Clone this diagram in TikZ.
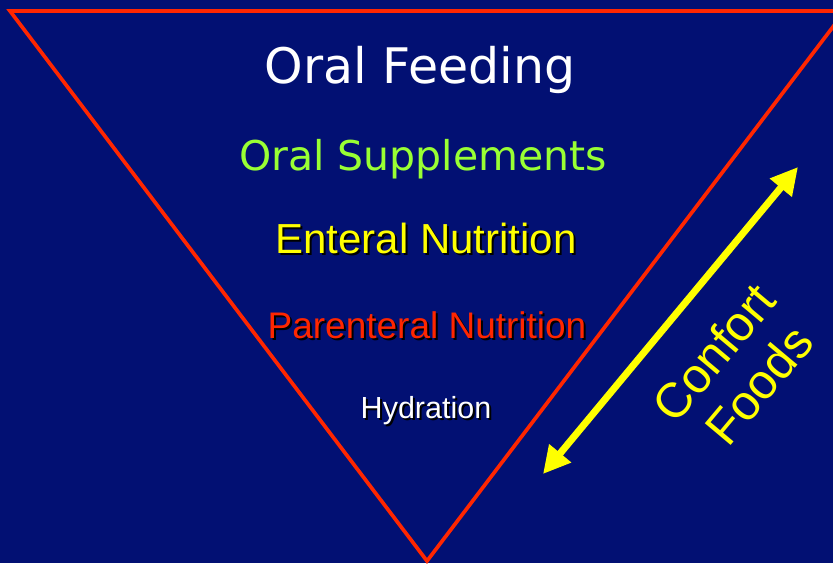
\documentclass[tikz,border=0pt]{standalone}
\usepackage{fontspec}
\setmainfont{Liberation Sans}
\newfontfamily\comicf{DejaVu Sans}
\newfontfamily\tahf{Liberation Sans}
\usetikzlibrary{arrows.meta}
\definecolor{navybg}{RGB}{2,16,115}
\definecolor{redline}{RGB}{255,38,0}
\definecolor{greentxt}{RGB}{153,255,51}
\definecolor{yellowtxt}{RGB}{255,255,0}
\newcommand{\shtxt}[2]{\makebox[0pt][l]{\hspace{2pt}\raisebox{-2pt}{\color{black}#2}}{\color{#1}#2}}
\tikzset{
  lbl/.style={anchor=base, inner sep=0pt, outer sep=0pt},
  tri/.style={draw=redline, line width=3.7pt, line join=miter},
  dblarrow/.style={draw=yellowtxt, line width=7pt,
    {Triangle[length=27pt,width=27pt]}-{Triangle[length=27pt,width=27pt]}}
}
\begin{document}
\begin{tikzpicture}[x=1pt,y=-1pt]
\useasboundingbox (0,0) rectangle (833,563);
\fill[navybg] (0,0) rectangle (833,563);
\clip (0,0) rectangle (833,563);
% triangle
\coordinate (tl) at (10,11);
\coordinate (tr) at (845,11);
\coordinate (bt) at (427,561);
\draw[tri] (tl) -- (tr) -- (bt) -- cycle;
% labels
\node[lbl, text=white, font=\comicf\fontsize{49}{55}\selectfont] (oral) at (420,83) {Oral Feeding};
\node[lbl, text=greentxt, font=\comicf\fontsize{41}{47}\selectfont] (supp) at (423,170) {Oral Supplements};
\node[lbl, font=\tahf\fontsize{42}{48}\selectfont] (ent) at (426,253) {\shtxt{yellowtxt}{Enteral Nutrition}};
\node[lbl, font=\tahf\fontsize{37}{43}\selectfont] (par) at (427,338) {\shtxt{redline}{Parenteral Nutrition}};
\node[lbl, font=\tahf\fontsize{30.5}{36}\selectfont] (hyd) at (426,418) {\shtxt{white}{Hydration}};
% arrow
\coordinate (a1) at (543,474);
\coordinate (a2) at (798,167);
\draw[dblarrow] (a1) -- (a2);
% confort foods
\node[lbl, text=yellowtxt, rotate=50, font=\tahf\fontsize{49}{56}\selectfont] (conf) at (727,364) {Confort};
\node[lbl, text=yellowtxt, rotate=50, font=\tahf\fontsize{49}{56}\selectfont] (foods) at (772,396) {Foods};
\end{tikzpicture}
\end{document}
